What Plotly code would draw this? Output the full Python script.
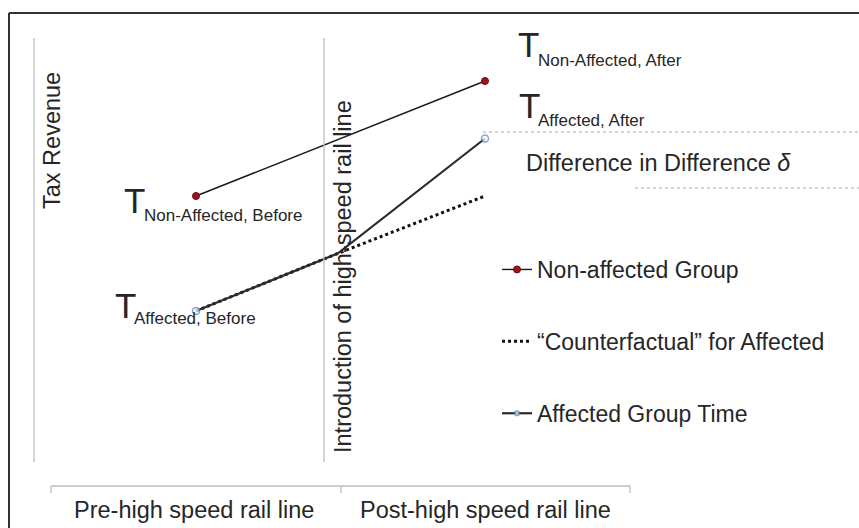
import plotly.graph_objects as go

# ---------------- data ----------------
periods = [0.0, 1.0]                       # before / after (time units)
non_affected = [3.0, 5.0]                  # tax revenue, non-affected group
affected_time = [0.0, 0.49, 1.0]           # before / introduction / after
affected = [1.0, 2.0, 4.0]                 # tax revenue, affected group
counterfactual = [1.0, 2.0, 3.0]           # counterfactual for affected
legend_names = ["Non-affected Group", "\u201cCounterfactual\u201d for Affected", "Affected Group Time"]
category_labels = ["Pre-high speed rail line", "Post-high speed rail line"]
y_title = "Tax Revenue"
event_label = "Introduction of high-speed rail line"

W, H = 859, 528
FONT = "Liberation Sans, Arial, sans-serif"
TXT = "#262626"

def px(x, y):
    return x / W, 1 - y / H

fig = go.Figure()

fig.add_trace(go.Scatter(
    x=periods, y=non_affected, mode="lines+markers", name=legend_names[0],
    legendgroup="a",
    line=dict(color="#1a1a1a", width=1.4),
    marker=dict(size=7, color="#a3121c", line=dict(color="#6b0a10", width=1)),
))
fig.add_trace(go.Scatter(
    x=affected_time, y=counterfactual, mode="lines", name=legend_names[1],
    legendgroup="b",
    line=dict(color="#111111", width=3, dash="dot"),
))
fig.add_trace(go.Scatter(
    x=affected_time, y=affected, mode="lines+markers", name=legend_names[2],
    legendgroup="c",
    line=dict(color="#2b2b2b", width=2.2),
    marker=dict(size=[7, 0, 7], color="white", line=dict(color="#4f81bd", width=1.5)),
))

shapes = []
def line(x0, y0, x1, y1, color, width=1, dash="solid"):
    a0, b0 = px(x0, y0)
    a1, b1 = px(x1, y1)
    shapes.append(dict(type="line", xref="paper", yref="paper", x0=a0, y0=b0, x1=a1, y1=b1,
                       line=dict(color=color, width=width, dash=dash)))

# frame
line(9, 13, W, 13, "#333333", 2)
line(9, 13, 9, H, "#333333", 2)
# y-axis and event line
line(34, 38, 34, 462, "#bdbdbd", 1.3)
line(324, 38, 324, 462, "#bdbdbd", 1.3)
# difference guides
line(483, 132, W, 132, "#a6a6a6", 1, "dot")
line(635, 188, W, 188, "#a6a6a6", 1, "dot")
# category axis
line(51, 486, 630, 486, "#bdbdbd", 1.3)
for xt in (51, 341, 630):
    line(xt, 486, xt, 493, "#bdbdbd", 1.3)

annotations = []
def text(t, x, y, size, xanchor="left", angle=0, yanchor="middle"):
    a, b = px(x, y)
    annotations.append(dict(text=t, x=a, y=b, xref="paper", yref="paper", showarrow=False,
                            xanchor=xanchor, yanchor=yanchor, textangle=angle,
                            font=dict(family=FONT, size=size, color=TXT)))

text("T", 122, 200, 35)
text("Non-Affected, Before", 142, 215, 17)
text("T", 113, 305, 35)
text("Affected, Before", 132, 318, 17)
text("T", 516, 45, 35)
text("Non-Affected, After", 536, 61, 17)
text("T", 517, 105, 35)
text("Affected, After", 536, 120, 17)
text("Difference in Difference <i>\u03b4</i>", 524, 163, 23.5)
text(y_title, 52, 141, 23.5, xanchor="center", angle=-90)
text(event_label, 343, 277, 23.5, xanchor="center", angle=-90)
text(category_labels[0], 194, 510, 23.5, xanchor="center")
text(category_labels[1], 485, 510, 23.5, xanchor="center")

fig.update_layout(
    width=W, height=H,
    margin=dict(l=0, r=0, t=0, b=0),
    paper_bgcolor="white", plot_bgcolor="white",
    xaxis=dict(range=[-196 / 289, (W - 196) / 289], visible=False, fixedrange=True),
    yaxis=dict(range=[1 - 217 / 57.5, 1 + 311 / 57.5], visible=False, fixedrange=True),
    shapes=shapes, annotations=annotations,
    showlegend=True,
    legend=dict(x=497 / W, y=1 - 248 / H, xanchor="left", yanchor="top",
                bgcolor="rgba(0,0,0,0)", tracegroupgap=39,
                font=dict(family=FONT, size=23, color=TXT)),
    font=dict(family=FONT, color=TXT),
)

fig.write_html("out.html", config={"displayModeBar": False},
               post_script="document.body.style.margin='0';document.body.style.overflow='hidden';")
